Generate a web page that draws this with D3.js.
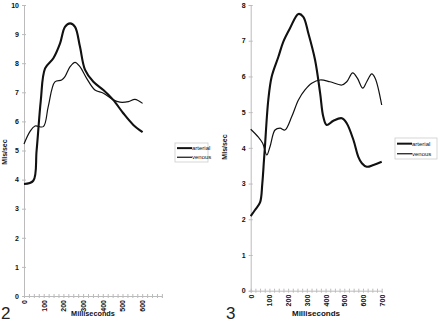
<!DOCTYPE html>
<html>
<head>
<meta charset="utf-8">
<script src="https://cdn.jsdelivr.net/npm/d3@7"></script>
<style>
body { margin: 0; background: #fff; }
svg { display: block; font-family: "Liberation Sans", Arial, sans-serif; }
.axis path, .axis line { stroke: #bbb; }
.axis text { font-size: 7px; font-weight: bold; fill: #111; }
.label { font-weight: bold; fill: #111; }
.legend text { font-size: 6px; fill: #111; }
</style>
</head>
<body>
<script>
// figure 2
const fig2Ms = [0, 47, 64, 85, 107, 149, 183, 208, 234, 259, 284, 310, 352, 403, 453, 504, 555, 602]
const fig2Arterial = [3.85, 3.96, 5.0, 6.7, 7.82, 8.17, 8.68, 9.25, 9.37, 9.25, 8.57, 7.77, 7.36, 7.08, 6.74, 6.28, 5.88, 5.63]
const fig2VenousMs = [0, 30, 56, 98, 123, 157, 191, 208, 234, 259, 284, 318, 360, 403, 453, 487, 530, 563, 602]
const fig2Venous = [5.22, 5.65, 5.84, 5.82, 6.51, 7.36, 7.42, 7.54, 7.88, 8.03, 7.88, 7.48, 7.08, 6.97, 6.74, 6.66, 6.68, 6.76, 6.62]

// figure 3
const fig3Ms = [0, 23, 50, 62, 71, 76, 94, 112, 148, 174, 210, 255, 281, 308, 344, 371, 388, 406, 442, 487, 513, 549, 575, 594, 620, 656, 700]
const fig3Arterial = [2.09, 2.26, 2.47, 3.0, 3.66, 4.03, 5.34, 5.99, 6.55, 6.97, 7.35, 7.75, 7.67, 7.21, 6.46, 5.53, 4.87, 4.64, 4.76, 4.83, 4.69, 4.22, 3.75, 3.57, 3.47, 3.52, 3.61]
const fig3VenousMs = [0, 41, 64, 86, 103, 130, 157, 183, 219, 255, 290, 326, 371, 424, 487, 513, 545, 570, 599, 620, 647, 665, 700]
const fig3Venous = [4.52, 4.3, 4.13, 3.8, 4.03, 4.5, 4.55, 4.5, 4.87, 5.34, 5.62, 5.81, 5.9, 5.85, 5.76, 5.85, 6.1, 5.95, 5.67, 5.85, 6.07, 5.95, 5.2]

const xTicks = d3.range(0, 701, 25)
const seriesNames = ["arterial", "venous"]

const WIDTH = 440
const HEIGHT = 323

const svg = d3.select("body")
    .append("svg")
    .attr("width", WIDTH)
    .attr("height", HEIGHT)

function drawPanel(p) {
    const xScale = d3.scaleLinear().domain([0, 700]).range([p.left, p.right])
    const yScale = d3.scaleLinear().domain([0, p.yMax]).range([p.bottom, p.top])

    // y axis, cross tick marks
    svg.append("g")
        .attr("class", "axis")
        .attr("transform", "translate(" + p.left + ",0)")
        .call(d3.axisLeft(yScale).ticks(p.yMax).tickSize(2).tickPadding(3))
    svg.append("g")
        .attr("class", "axis")
        .attr("transform", "translate(" + p.left + ",0)")
        .call(d3.axisRight(yScale).ticks(p.yMax).tickSize(2).tickFormat(""))
        .select(".domain").remove()

    const xAx = svg.append("g")
        .attr("class", "axis")
        .attr("transform", "translate(0," + p.bottom + ")")
        .call(d3.axisBottom(xScale).tickValues(xTicks).tickSize(2)
            .tickFormat(d => (d % 100 === 0 && d <= p.lastLabel) ? d : ""))
    xAx.selectAll("text")
        .attr("transform", "rotate(-90)")
        .attr("text-anchor", "end")
        .attr("x", -4)
        .attr("y", 0)
        .attr("dy", "0.35em")
    svg.append("g")
        .attr("class", "axis")
        .attr("transform", "translate(0," + p.bottom + ")")
        .call(d3.axisTop(xScale).tickValues(xTicks).tickSize(2).tickFormat(""))
        .select(".domain").remove()

    const line = d3.line()
        .x(d => xScale(d[0]))
        .y(d => yScale(d[1]))
        .curve(d3.curveCatmullRom.alpha(0.5))

    svg.append("path")
        .datum(p.venousMs.map((m, i) => [m, p.venous[i]]))
        .attr("fill", "none")
        .attr("stroke", "#111")
        .attr("stroke-width", 1.2)
        .attr("d", line)

    svg.append("path")
        .datum(p.arterialMs.map((m, i) => [m, p.arterial[i]]))
        .attr("fill", "none")
        .attr("stroke", "#111")
        .attr("stroke-width", 2.1)
        .attr("d", line)

    svg.append("text")
        .attr("class", "label")
        .attr("font-size", 7)
        .attr("transform", "translate(" + p.yLabelX + "," + p.yLabelY + ") rotate(-90)")
        .attr("text-anchor", "middle")
        .attr("dy", "0.35em")
        .text("Mls/sec")

    svg.append("text")
        .attr("class", "label")
        .attr("font-size", p.xLabelSize)
        .attr("x", p.xLabelX)
        .attr("y", 316)
        .attr("text-anchor", "middle")
        .text("Milliseconds")

    svg.append("text")
        .attr("x", p.numX)
        .attr("y", 319)
        .attr("font-size", 17)
        .attr("fill", "#222")
        .text(p.num)

    const lg = svg.append("g")
        .attr("class", "legend")
        .attr("transform", "translate(" + p.legend[0] + "," + p.legend[1] + ")")
    lg.append("rect")
        .attr("width", p.legend[2])
        .attr("height", p.legend[3])
        .attr("fill", "#fff")
        .attr("stroke", "#ccc")
        .attr("stroke-width", 0.8)
    seriesNames.forEach((name, i) => {
        const yy = p.legend[3] * (0.27 + i * 0.48)
        lg.append("line")
            .attr("x1", 2).attr("x2", 17)
            .attr("y1", yy).attr("y2", yy)
            .attr("stroke", "#111")
            .attr("stroke-width", i === 0 ? 2 : 1.2)
        lg.append("text")
            .attr("x", 17)
            .attr("y", yy)
            .attr("dy", "0.35em")
            .text(name)
    })
}

drawPanel({
    left: 24, right: 161.9, top: 5, bottom: 296, yMax: 10, lastLabel: 600,
    arterialMs: fig2Ms, arterial: fig2Arterial,
    venousMs: fig2VenousMs, venous: fig2Venous,
    yLabelX: 5, yLabelY: 152, xLabelX: 93, xLabelSize: 7.3, num: "2", numX: 1,
    legend: [175, 143, 33, 19]
})

drawPanel({
    left: 250.7, right: 381.7, top: 5, bottom: 290.7, yMax: 8, lastLabel: 700,
    arterialMs: fig3Ms, arterial: fig3Arterial,
    venousMs: fig3VenousMs, venous: fig3Venous,
    yLabelX: 225, yLabelY: 147, xLabelX: 316, xLabelSize: 8, num: "3", numX: 226,
    legend: [395, 138, 42, 21]
})
</script>
</body>
</html>
